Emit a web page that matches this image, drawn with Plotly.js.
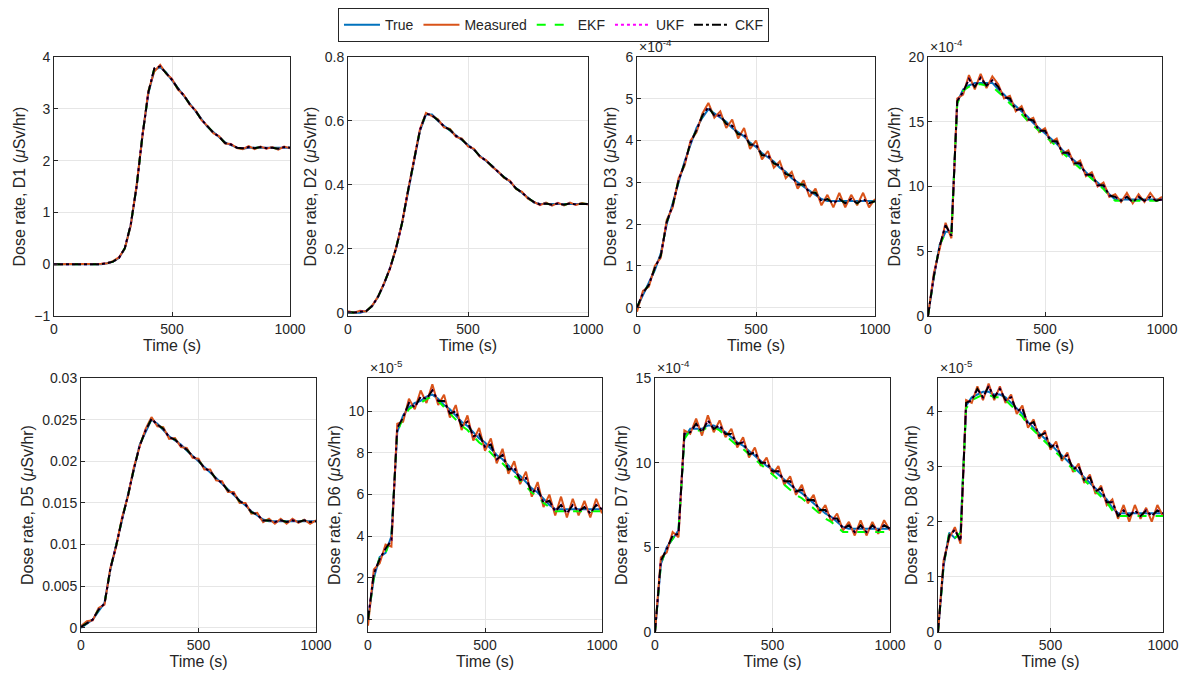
<!DOCTYPE html>
<html>
<head>
<meta charset="utf-8">
<script src="https://cdn.plot.ly/plotly-3.0.1.min.js"></script>
<style>body{margin:0;background:#fff}#chart{width:1189px;height:686px}</style>
</head>
<body>
<div id="chart"></div>
<script>
// time grid (s), 25 s steps
var time = [0,25,50,75,100,125,150,175,200,225,250,275,300,325,350,375,400,425,450,475,500,
  525,550,575,600,625,650,675,700,725,750,775,800,825,850,875,900,925,950,975,1000];

// D1 (uSv/hr)
var tru1 = [0,0,0,0,0,0,0,0,0,0.02,0.05,0.12,0.3,0.75,1.5,2.5,3.3,3.75,3.8,3.7,3.55,3.4,3.25,3.1,2.95,2.8,2.65,2.55,2.45,2.35,2.3,2.25,2.23,2.25,2.25,2.25,2.25,2.25,2.25,2.25,2.25];
var meas1 = [0,0,0,0,0,0,0,0,0.01,0.02,0.06,0.13,0.3,0.74,1.52,2.48,3.35,3.72,3.85,3.68,3.58,3.37,3.27,3.08,2.97,2.78,2.67,2.53,2.47,2.33,2.32,2.24,2.22,2.28,2.22,2.27,2.23,2.26,2.21,2.27,2.24];
var ckf1 = [0,0,0,0,0,0,0,0,0,0.02,0.05,0.12,0.31,0.76,1.5,2.49,3.32,3.78,3.82,3.69,3.56,3.39,3.26,3.09,2.96,2.79,2.66,2.54,2.46,2.34,2.31,2.25,2.24,2.26,2.24,2.26,2.24,2.25,2.23,2.26,2.25];

// D2
var tru2 = [0,0,0,0.005,0.02,0.05,0.09,0.14,0.2,0.28,0.38,0.48,0.57,0.62,0.62,0.6,0.585,0.57,0.555,0.54,0.525,0.51,0.49,0.475,0.46,0.44,0.425,0.41,0.39,0.375,0.36,0.345,0.34,0.34,0.34,0.34,0.34,0.34,0.34,0.34,0.34];
var meas2 = [0.005,0,0.006,0.004,0.022,0.05,0.092,0.138,0.203,0.28,0.382,0.478,0.575,0.625,0.615,0.605,0.58,0.575,0.55,0.545,0.52,0.513,0.487,0.478,0.457,0.443,0.422,0.413,0.387,0.378,0.357,0.348,0.337,0.345,0.335,0.344,0.336,0.345,0.337,0.343,0.339];
var ckf2 = [0.002,0.001,0.003,0.005,0.021,0.05,0.091,0.139,0.201,0.28,0.381,0.479,0.572,0.623,0.618,0.602,0.583,0.572,0.553,0.542,0.523,0.511,0.489,0.476,0.459,0.441,0.424,0.411,0.389,0.376,0.359,0.346,0.339,0.342,0.338,0.342,0.338,0.342,0.339,0.341,0.34];

// D3 (x1e-4)
var tru3 = [0,0.3,0.6,0.9,1.3,2.0,2.5,3.0,3.5,3.9,4.3,4.55,4.75,4.65,4.55,4.45,4.3,4.2,4.1,3.95,3.85,3.7,3.6,3.5,3.35,3.25,3.1,3.0,2.9,2.8,2.7,2.6,2.55,2.55,2.55,2.55,2.55,2.55,2.55,2.55,2.55];
var meas3 = [-0.1,0.4,0.5,1.0,1.2,2.1,2.4,3.1,3.4,4.0,4.2,4.65,4.9,4.55,4.7,4.3,4.5,4.05,4.3,3.8,4.0,3.55,3.75,3.35,3.5,3.1,3.25,2.85,3.05,2.65,2.85,2.45,2.7,2.4,2.75,2.4,2.7,2.45,2.75,2.4,2.6];
var ckf3 = [0,0.35,0.55,0.95,1.25,2.05,2.45,3.05,3.45,3.95,4.25,4.6,4.8,4.6,4.6,4.4,4.35,4.15,4.15,3.9,3.9,3.65,3.65,3.45,3.4,3.2,3.15,2.95,2.95,2.75,2.75,2.55,2.6,2.5,2.6,2.5,2.6,2.5,2.6,2.5,2.55];

// D4 (x1e-4)
var tru4 = [0,3,5.5,6.5,6.5,16.5,17.5,17.8,18,18,18,18,17.5,17.1,16.6,16.2,15.8,15.4,14.9,14.5,14.1,13.7,13.3,12.8,12.4,12.0,11.6,11.1,10.7,10.3,9.9,9.4,9.0,9,9,9,9,9,9,9,9];
var meas4 = [0,3.3,5.2,7.2,6.0,16.8,17.1,18.6,17.5,18.7,17.6,18.5,17.9,16.8,17.0,15.8,16.2,15.1,15.3,14.2,14.5,13.4,13.7,12.5,12.8,11.7,12.0,10.8,11.1,10.0,10.3,9.2,9.4,8.8,9.5,8.7,9.4,8.8,9.5,8.9,9.2];
var ekf4 = [0,3,5.5,6.4,6.4,16.4,17.4,17.7,17.9,17.9,17.8,17.7,17.3,16.9,16.4,16.0,15.6,15.1,14.7,14.3,13.9,13.5,13.1,12.6,12.2,11.8,11.4,11.0,10.6,10.2,9.8,9.3,8.9,8.9,8.9,8.9,8.9,8.9,8.9,8.9,8.9];
var ckf4 = [0,3.1,5.4,7.0,6.2,16.6,17.3,18.3,17.7,18.4,17.8,18.2,17.7,16.9,16.8,15.9,16.0,15.2,15.1,14.3,14.3,13.5,13.5,12.6,12.6,11.8,11.8,10.9,10.9,10.1,10.1,9.3,9.2,8.9,9.2,8.8,9.2,8.9,9.2,8.9,9.0];

// D5
var tru5 = [0,0.0005,0.001,0.002,0.003,0.007,0.01,0.013,0.016,0.019,0.022,0.0235,0.025,0.0245,0.0238,0.023,0.0225,0.022,0.0213,0.0207,0.02,0.0193,0.0187,0.018,0.0173,0.0166,0.016,0.0153,0.0147,0.014,0.0135,0.013,0.0128,0.0128,0.0128,0.0128,0.0128,0.0128,0.0128,0.0128,0.0128];
var meas5 = [0.0002,0.0008,0.0009,0.0024,0.0028,0.0072,0.0098,0.0133,0.0158,0.0193,0.0218,0.0239,0.0253,0.0242,0.0241,0.0227,0.0228,0.0217,0.0216,0.0204,0.0203,0.019,0.019,0.0177,0.0176,0.0163,0.0163,0.015,0.015,0.0137,0.0138,0.0127,0.0131,0.0125,0.0131,0.0125,0.0131,0.0126,0.013,0.0125,0.0129];
var ckf5 = [0.0001,0.0006,0.001,0.0022,0.0029,0.0071,0.0099,0.0131,0.0159,0.0191,0.0219,0.0237,0.0251,0.0244,0.0239,0.0229,0.0226,0.0219,0.0214,0.0206,0.0201,0.0192,0.0188,0.0179,0.0174,0.0165,0.0161,0.0152,0.0148,0.0139,0.0136,0.0129,0.0129,0.0127,0.0129,0.0127,0.0129,0.0127,0.0129,0.0127,0.0128];

// D6 (x1e-5)
var tru6 = [0,2,3,3.2,4,9,9.8,10.2,10.4,10.5,10.7,10.8,10.6,10.3,10.1,9.8,9.5,9.3,9.0,8.7,8.5,8.2,7.9,7.7,7.4,7.1,6.9,6.6,6.3,6.1,5.8,5.5,5.3,5.3,5.3,5.3,5.3,5.3,5.3,5.3,5.3];
var meas6 = [-0.3,2.4,2.7,3.6,3.5,9.4,9.5,10.6,10.1,11.0,10.4,11.3,10.3,10.8,9.7,10.3,9.1,9.8,8.6,9.2,8.1,8.7,7.5,8.2,7.0,7.6,6.5,7.1,5.9,6.6,5.4,6.0,5.0,5.9,4.9,5.8,5.0,5.7,4.9,5.8,5.1];
var ekf6 = [0,2,3,3.2,4,9,9.7,10.1,10.3,10.4,10.6,10.7,10.5,10.2,9.9,9.6,9.3,9.1,8.8,8.5,8.3,8.0,7.7,7.5,7.2,6.9,6.7,6.4,6.1,5.9,5.6,5.4,5.2,5.2,5.2,5.2,5.2,5.2,5.2,5.2,5.2];
var ckf6 = [0,2.2,2.9,3.4,3.8,9.2,9.7,10.4,10.2,10.7,10.6,11.0,10.5,10.5,9.9,10.0,9.3,9.5,8.8,8.9,8.3,8.4,7.7,7.9,7.2,7.3,6.7,6.8,6.1,6.3,5.6,5.7,5.2,5.5,5.1,5.5,5.2,5.4,5.1,5.5,5.3];

// D7 (x1e-4)
var tru7 = [0,4,5,5.5,6,11.5,12,12,12,12.2,12.2,12,11.8,11.5,11.2,11.0,10.7,10.4,10.1,9.8,9.6,9.3,9.0,8.7,8.4,8.2,7.9,7.6,7.3,7.0,6.8,6.5,6.2,6.1,6.1,6.1,6.1,6.1,6.1,6.1,6.1];
var meas7 = [0,4.4,4.7,5.9,5.6,11.9,11.7,12.6,11.6,12.8,11.8,12.5,11.5,12.0,10.9,11.5,10.3,10.9,9.8,10.3,9.3,9.8,8.7,9.2,8.1,8.7,7.6,8.1,7.0,7.5,6.5,7.0,6.0,6.5,5.7,6.6,5.7,6.5,5.8,6.6,6.0];
var ekf7 = [0,4,5,5.5,6,11.4,11.9,11.9,11.9,12.1,12.1,11.9,11.6,11.3,11.0,10.8,10.5,10.2,9.9,9.6,9.3,9.0,8.7,8.4,8.1,7.9,7.6,7.3,7.0,6.7,6.5,6.2,5.9,5.9,5.9,5.9,5.9,5.9,5.9,5.9,5.9];
var ckf7 = [0,4.2,4.9,5.7,5.8,11.7,11.8,12.3,11.8,12.5,12.0,12.2,11.7,11.7,11.1,11.2,10.5,10.6,10.0,10.0,9.5,9.5,8.9,8.9,8.3,8.4,7.8,7.8,7.2,7.2,6.7,6.7,6.1,6.3,5.9,6.3,5.9,6.3,6.0,6.3,6.1];

// D8 (x1e-5)
var tru8 = [0,1.2,1.8,1.7,1.8,4.1,4.25,4.3,4.35,4.35,4.3,4.3,4.25,4.15,4.05,3.95,3.8,3.7,3.6,3.5,3.4,3.3,3.2,3.1,3.0,2.9,2.8,2.7,2.6,2.5,2.4,2.25,2.15,2.15,2.15,2.15,2.15,2.15,2.15,2.15,2.15];
var meas8 = [0,1.3,1.7,1.9,1.6,4.2,4.15,4.45,4.2,4.5,4.2,4.45,4.15,4.3,3.95,4.1,3.7,3.85,3.5,3.65,3.3,3.45,3.1,3.25,2.9,3.05,2.7,2.85,2.5,2.65,2.3,2.4,2.05,2.3,2.0,2.3,2.05,2.25,2.0,2.3,2.1];
var ekf8 = [0,1.2,1.8,1.7,1.8,4.05,4.2,4.25,4.3,4.3,4.25,4.25,4.2,4.1,4.0,3.9,3.75,3.65,3.55,3.45,3.35,3.25,3.15,3.05,2.95,2.85,2.75,2.65,2.55,2.45,2.35,2.2,2.1,2.1,2.1,2.1,2.1,2.1,2.1,2.1,2.1];
var ckf8 = [0,1.25,1.75,1.85,1.65,4.15,4.2,4.4,4.25,4.45,4.25,4.4,4.2,4.25,4.0,4.05,3.75,3.8,3.55,3.6,3.35,3.4,3.15,3.2,2.95,3.0,2.75,2.8,2.55,2.6,2.35,2.35,2.1,2.2,2.1,2.2,2.1,2.2,2.1,2.2,2.15];

var panels = [
  {tru: tru1, meas: meas1, ekf: ckf1, ckf: ckf1, range: [-1, 4], dtick: 1, exp: null},
  {tru: tru2, meas: meas2, ekf: ckf2, ckf: ckf2, range: [-0.01, 0.8], dtick: 0.2, exp: null},
  {tru: tru3, meas: meas3, ekf: ckf3, ckf: ckf3, range: [-0.2, 6], dtick: 1, exp: '-4'},
  {tru: tru4, meas: meas4, ekf: ekf4, ckf: ckf4, range: [0, 20], dtick: 5, exp: '-4'},
  {tru: tru5, meas: meas5, ekf: ckf5, ckf: ckf5, range: [-0.0005, 0.03], dtick: 0.005, exp: null},
  {tru: tru6, meas: meas6, ekf: ekf6, ckf: ckf6, range: [-0.6, 11.6], dtick: 2, exp: '-5'},
  {tru: tru7, meas: meas7, ekf: ekf7, ckf: ckf7, range: [0, 15], dtick: 5, exp: '-4'},
  {tru: tru8, meas: meas8, ekf: ekf8, ckf: ckf8, range: [0, 4.6], dtick: 1, exp: '-5'}
];

var W = 1189, H = 686;
var boxes = [
  [54, 290, 57, 316], [348, 588, 57, 316], [637, 875, 57, 316], [928, 1162, 57, 316],
  [81, 316, 378, 632], [368, 602, 378, 632], [655, 890, 378, 632], [938, 1163, 378, 632]
];

var data = [];
var layout = {
  width: W, height: H,
  margin: {l: 0, r: 0, t: 0, b: 0},
  paper_bgcolor: '#fff', plot_bgcolor: '#fff',
  font: {family: 'Liberation Sans, Arial, sans-serif', size: 14, color: '#262626'},
  showlegend: true,
  legend: {orientation: 'h', x: 0.4655, xanchor: 'center', y: 0.988, yanchor: 'top',
    bordercolor: '#262626', borderwidth: 1, bgcolor: '#fff', font: {size: 14},
    itemwidth: 36, tracegroupgap: 0},
  annotations: []
};

panels.forEach(function (p, i) {
  var n = i + 1, xa = 'x' + (n === 1 ? '' : n), ya = 'y' + (n === 1 ? '' : n);
  var b = boxes[i], show = i === 0;
  data.push({x: time, y: p.tru, xaxis: xa, yaxis: ya, name: 'True', showlegend: show,
    mode: 'lines', line: {color: '#0072bd', width: 2}});
  data.push({x: time, y: p.meas, xaxis: xa, yaxis: ya, name: 'Measured', showlegend: show,
    mode: 'lines', line: {color: '#d95319', width: 2}});
  data.push({x: time, y: p.ekf, xaxis: xa, yaxis: ya, name: 'EKF', showlegend: show,
    mode: 'lines', line: {color: '#00ff00', width: 2, dash: 'dash'}});
  data.push({x: time, y: p.ckf, xaxis: xa, yaxis: ya, name: 'UKF', showlegend: show,
    mode: 'lines', line: {color: '#ff00ff', width: 2, dash: 'dot'}});
  data.push({x: time, y: p.ckf, xaxis: xa, yaxis: ya, name: 'CKF', showlegend: show,
    mode: 'lines', line: {color: '#000000', width: 2, dash: 'dashdot'}});

  var ax = {
    showline: true, mirror: true, linecolor: '#262626', linewidth: 1,
    ticks: 'inside', ticklen: 4, tickcolor: '#262626',
    showgrid: true, gridcolor: '#e6e6e6', zeroline: false,
    tickfont: {size: 14}, automargin: false
  };
  layout['xaxis' + (n === 1 ? '' : n)] = Object.assign({}, ax, {
    domain: [b[0] / W, b[1] / W], anchor: ya, range: [0, 1000], dtick: 500,
    title: {text: 'Time (s)', font: {size: 16}, standoff: 2}
  });
  layout['yaxis' + (n === 1 ? '' : n)] = Object.assign({}, ax, {
    domain: [1 - b[3] / H, 1 - b[2] / H], anchor: xa, range: p.range, dtick: p.dtick,
    title: {text: 'Dose rate, D' + n + ' (<i>μ</i>Sv/hr)', font: {size: 16}, standoff: 4}
  });
  if (p.exp) {
    layout.annotations.push({xref: 'paper', yref: 'paper', x: b[0] / W, y: 1 - b[2] / H,
      xanchor: 'left', yanchor: 'bottom', showarrow: false, font: {size: 14},
      text: '×10<sup>' + p.exp + '</sup>'});
  }
});

Plotly.newPlot('chart', data, layout, {displayModeBar: false});
</script>
</body>
</html>
